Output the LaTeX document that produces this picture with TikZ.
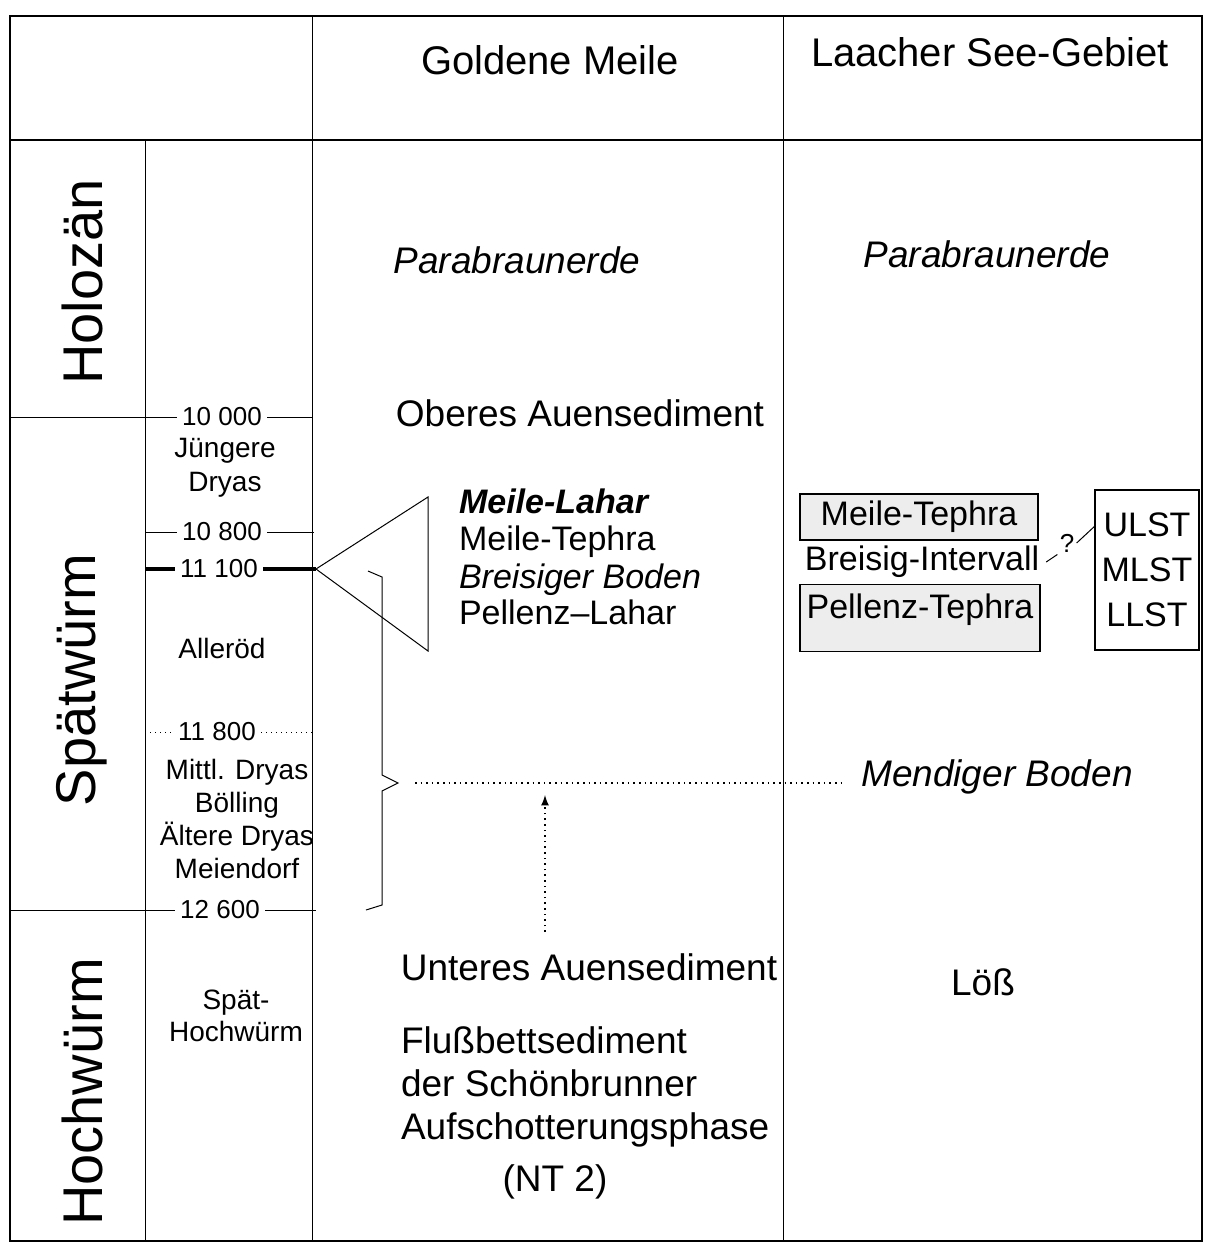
\documentclass[tikz,border=0pt]{standalone}
\usepackage{fontspec}
\setmainfont{Liberation Sans}
\usetikzlibrary{positioning,arrows,calc}

\begin{document}
\begin{tikzpicture}[x=0.5pt,y=-0.5pt]

	\tikzstyle{rahmen} = [line width=1.1pt]
	\tikzstyle{linie} = [line width=0.5pt]
	\tikzstyle{kopf} = [font=\fontsize{20}{24}\selectfont]
	\tikzstyle{stufe} = [font=\fontsize{28}{32}\selectfont,rotate=90]
	\tikzstyle{zeit} = [font=\fontsize{13}{15}\selectfont,inner sep=2.5pt]
	\tikzstyle{phase} = [font=\fontsize{14}{17}\selectfont,align=center]
	\tikzstyle{schicht} = [font=\fontsize{18.5}{21.5}\selectfont]
	\tikzstyle{tephra} = [font=\fontsize{17}{18.5}\selectfont]
	\tikzstyle{kasten} = [rectangle,draw=black,fill=black!7,line width=0.6pt]
	\tikzstyle{punkte} = [dotted,line width=0.8pt]

	\useasboundingbox (0,0) rectangle (1206,1244);

	% Rahmen
	\draw[rahmen] (10,16) rectangle (1202,1241);
	\draw[rahmen] (10,140) -- (1202,140);
	\draw[linie] (312,16) -- (312,1241);
	\draw[linie] (783,16) -- (783,1241);
	\draw[linie] (145,140) -- (145,1241);

	\node[kopf] (gm) at (550,60) {Goldene Meile};
	\node[kopf] (ls) at (990,52) {Laacher See-Gebiet};

	\node[stufe] (holo) at (82,282) {Holozän};
	\node[stufe] (spaet) at (82,680) {Spätwürm};
	\node[stufe] (hoch) at (82,1092) {Hochwürm};

	% Zeitmarken
	\node[zeit] (t1) at (222,417) {10 000};
	\node[zeit] (t2) at (222,532) {10 800};
	\node[zeit] (t3) at (219,569) {11 100};
	\node[zeit] (t4) at (217,732) {11 800};
	\node[zeit] (t5) at (220,910) {12 600};
	\coordinate (a1) at (10,417);  \coordinate (b1) at (312,417);
	\coordinate (a2) at (145,532); \coordinate (b2) at (314,532);
	\coordinate (a3) at (145,569); \coordinate (b3) at (316,569);
	\coordinate (a4) at (145,732); \coordinate (b4) at (316,732);
	\coordinate (a5) at (10,910);  \coordinate (b5) at (316,910);
	\draw[linie] (a1) -- (t1) -- (b1);
	\draw[linie] (a2) -- (t2) -- (b2);
	\draw[line width=2pt] (a3) -- (t3) -- (b3);
	\draw[linie,dotted] (a4) -- (t4) -- (b4);
	\draw[linie] (a5) -- (t5) -- (b5);

	\node[phase] (jd) at (225,468) {Jüngere\\Dryas};
	\node[phase] (al) at (222,648) {Alleröd};
	\node[phase,font=\fontsize{14}{16.5}\selectfont] (md) at (237,819) {Mittl. Dryas\\Bölling\\Ältere Dryas\\Meiendorf};
	\node[phase,font=\fontsize{14}{16}\selectfont] (sh) at (236,1016) {Spät-\\Hochwürm};

	% Goldene Meile
	\node[schicht] (pb1) at (517,260) {\itshape Parabraunerde};
	\node[schicht] (oa) at (580,413) {Oberes Auensediment};
	\draw[linie] (b3) -- (428,497) -- (428,651) -- cycle;
	\node[tephra,anchor=base west] (ml) at (452,513) {\bfseries\itshape Meile-Lahar};
	\node[tephra,anchor=base west] (mt1) at (452,550) {Meile-Tephra};
	\node[tephra,anchor=base west] (bb) at (452,588) {\itshape Breisiger Boden};
	\node[tephra,anchor=base west] (pl) at (452,624) {Pellenz--Lahar};

	\coordinate (spitze) at (398,783);
	\draw[linie] (368,571) -- (382,577) -- (382,775) -- (spitze) -- (382,791) -- (382,905) -- (366,910);
	\coordinate (mstart) at (415,783);
	\coordinate (mende) at (842,783);
	\draw[punkte] (mstart) -- (mende);
	\node[schicht] (mb) at (997,777) {\itshape Mendiger Boden};

	\coordinate (pfuss) at (545,932);
	\coordinate (pspitze) at (545,795);
	\draw[punkte,-latex] (pfuss) -- (pspitze);

	\node[schicht] (ua) at (589,967) {Unteres Auensediment};
	\node[schicht,align=left,anchor=west] (fb) at (394,1087) {Flußbettsediment\\der Schönbrunner\\Aufschotterungsphase};
	\node[schicht] (nt) at (555,1182) {(NT 2)};

	% Laacher See-Gebiet
	\node[schicht] (pb2) at (987,254) {\itshape Parabraunerde};
	\node[kasten,tephra,minimum width=119pt,minimum height=23pt] (mt2) at (919,517) {Meile-Tephra};
	\node[tephra] (bi) at (922,562) {Breisig-Intervall};
	\node[kasten,tephra,minimum width=120pt,minimum height=33.5pt,text depth=12pt] (pt) at (920,618) {Pellenz-Tephra};
	\node[rectangle,draw=black,line width=0.6pt,align=center,minimum width=52pt,minimum height=80pt,font=\fontsize{17}{22.5}\selectfont] (lst) at (1147,570) {ULST\\MLST\\LLST};
	\node[font=\fontsize{13}{15}\selectfont,inner sep=1pt] (frage) at (1067,543) {?};
	\coordinate (lstan) at ($(lst.north west)!0.23!(lst.south west)$);
	\draw[linie] (bi.east) -- (frage.south west);
	\draw[linie] (frage.east) -- (lstan);

	\node[schicht] (loess) at (983,982) {Löß};

\end{tikzpicture}
\end{document}
